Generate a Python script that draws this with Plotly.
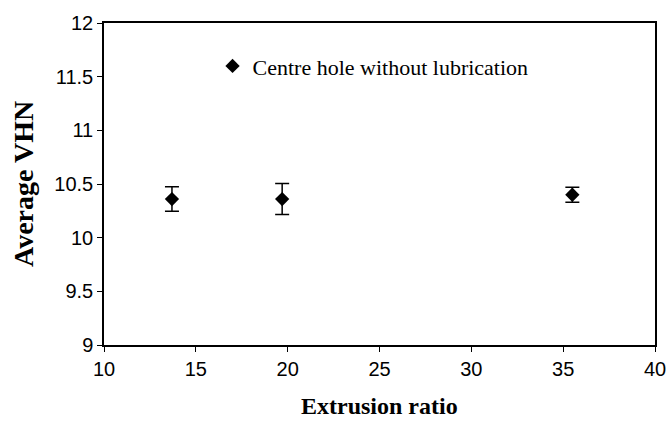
import plotly.graph_objects as go

# Extrusion ratio vs average Vickers hardness
extrusion_ratio = [13.7, 19.7, 35.5]
avg_vhn = [10.36, 10.36, 10.40]
vhn_error = [0.115, 0.145, 0.07]
series_name = "Centre hole without lubrication"

x_ticks = [10, 15, 20, 25, 30, 35, 40]
y_ticks = [9, 9.5, 10, 10.5, 11, 11.5, 12]

fig = go.Figure()
fig.add_trace(go.Scatter(
    x=extrusion_ratio,
    y=avg_vhn,
    mode="markers",
    name=series_name,
    marker=dict(symbol="diamond", size=11, color="black"),
    error_y=dict(type="data", array=vhn_error, visible=True,
                 color="black", thickness=1.5, width=7),
    showlegend=True,
))

fig.update_layout(
    width=667, height=423,
    margin=dict(l=104, r=12, t=23, b=78),
    paper_bgcolor="white",
    plot_bgcolor="white",
    showlegend=True,
    legend=dict(
        x=0.197, y=0.866, xanchor="left", yanchor="middle",
        bgcolor="rgba(0,0,0,0)",
        font=dict(family="Liberation Serif", size=22, color="black"),
        itemwidth=30,
    ),
    xaxis=dict(
        range=[10, 40], tickvals=x_ticks, ticktext=[str(v) for v in x_ticks],
        showgrid=False, zeroline=False, automargin=False,
        showline=True, linecolor="black", linewidth=1.5, mirror=True,
        ticks="outside", ticklen=5, tickcolor="black",
        tickfont=dict(family="Liberation Sans", size=20, color="black"),
    ),
    yaxis=dict(
        range=[9, 12], tickvals=y_ticks, ticktext=[f"{v:g}" for v in y_ticks],
        showgrid=False, zeroline=False, automargin=False,
        showline=True, linecolor="black", linewidth=1.5, mirror=True,
        ticks="outside", ticklen=5, tickcolor="black",
        tickfont=dict(family="Liberation Sans", size=20, color="black"),
    ),
    annotations=[
        dict(text="<b>Extrusion ratio</b>", xref="paper", yref="paper",
             x=0.5, y=-0.189, xanchor="center", yanchor="middle",
             showarrow=False,
             font=dict(family="Liberation Serif", size=24, color="black")),
        dict(text="<b>Average VHN</b>", xref="paper", yref="paper",
             x=-0.147, y=0.5, xanchor="center", yanchor="middle",
             textangle=-90, showarrow=False,
             font=dict(family="Liberation Serif", size=28, color="black")),
    ],
)

fig.write_html("out.html")
